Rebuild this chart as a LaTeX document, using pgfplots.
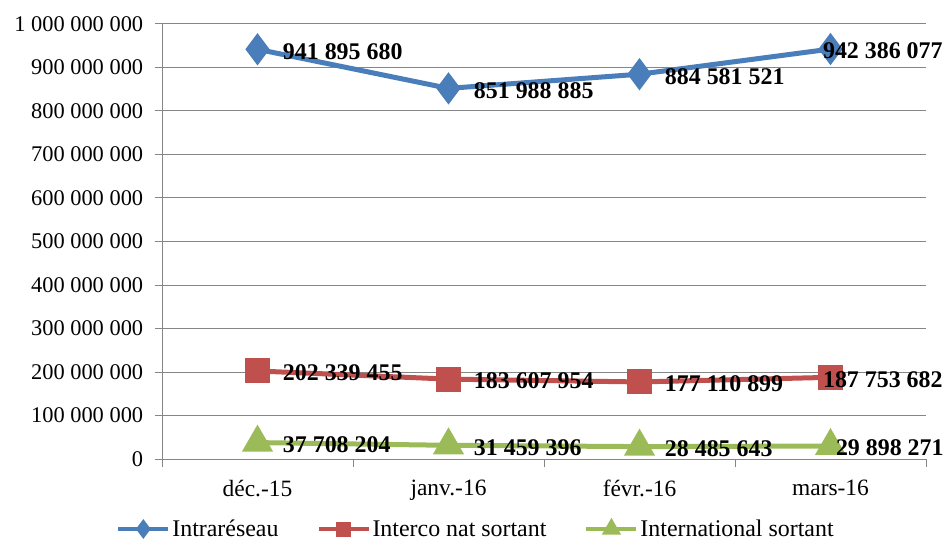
\documentclass[border=0pt]{standalone}
\usepackage{pgfplots}
\pgfplotsset{compat=1.18}
\usepackage{fontspec}
\setmainfont{Liberation Serif}
\definecolor{cblue}{HTML}{4A7EBB}
\definecolor{cred}{HTML}{C0504D}
\definecolor{cgreen}{HTML}{9BBB59}
\definecolor{cgrid}{HTML}{868686}
\begin{document}
\begin{tikzpicture}
\useasboundingbox (0,0) rectangle (945bp,543bp);
\begin{axis}[
  at={(162bp,84bp)}, anchor=south west,
  scale only axis, width=764bp, height=435bp,
  xmin=0.5, xmax=4.5, ymin=0, ymax=1000000000,
  axis x line*=bottom, axis y line*=left,
  axis line style={cgrid, line width=1pt, -},
  xtick={1,2,3,4},
  xticklabels={déc.-15, janv.-16, févr.-16, mars-16},
  minor xtick={0.5,1.5,2.5,3.5,4.5},
  major x tick style={draw=none},
  minor x tick style={cgrid, line width=1pt},
  minor tick length=8bp,
  ytick={0,100000000,...,1000000000},
  scaled y ticks=false,
  y tick style={cgrid, line width=1pt},
  major tick length=7bp,
  tick align=outside,
  ymajorgrids, grid style={cgrid, line width=1pt},
  yticklabel style={font=\fontsize{22.5}{26}\selectfont, xshift=-6bp,
    /pgf/number format/.cd, fixed, precision=0, 1000 sep={\ }, assume math mode=true},
  xticklabel style={font=\fontsize{23.5}{26}\selectfont, yshift=-8bp},
  line width=5bp,
  nodes near coords,
  point meta=explicit symbolic,
  visualization depends on={x \as \myx},
  nodes near coords style={anchor=west, xshift={\myx>3.5 ? -11 : 22}, yshift=-2bp, font=\fontsize{24}{28}\selectfont\bfseries, text=black, inner sep=1bp},
  legend style={at={(0.411,0)}, anchor=center, yshift=-70bp, draw=none, fill=none,
    font=\fontsize{24}{27}\selectfont, legend columns=3,
    /tikz/every even column/.append style={column sep=36bp}},
  legend image code/.code={
    \draw[#1, line width=4bp, mark options={scale=0.55}, mark repeat=2, mark phase=2]
      plot coordinates {(0bp,0bp) (25bp,0bp) (50bp,0bp)};},
  clip=false,
]
\addplot[cblue, mark=diamond*, mark size=12bp, mark options={solid}] coordinates {
  (1,941895680)[941 895 680] (2,851988885)[851 988 885] (3,884581521)[884 581 521] (4,942386077)[942 386 077]};
\addlegendentry{Intraréseau}
\addplot[cred, mark=square*, mark size=10bp] coordinates {
  (1,202339455)[202 339 455] (2,183607954)[183 607 954] (3,177110899)[177 110 899] (4,187753682)[187 753 682]};
\addlegendentry{Interco nat sortant}
\addplot[cgreen, mark=triangle*, mark size=13bp,
  nodes near coords style={xshift={\myx>3.5 ? 13 : 0}}] coordinates {
  (1,37708204)[37 708 204] (2,31459396)[31 459 396] (3,28485643)[28 485 643] (4,29898271)[29 898 271]};
\addlegendentry{International sortant}
\end{axis}
\end{tikzpicture}
\end{document}
